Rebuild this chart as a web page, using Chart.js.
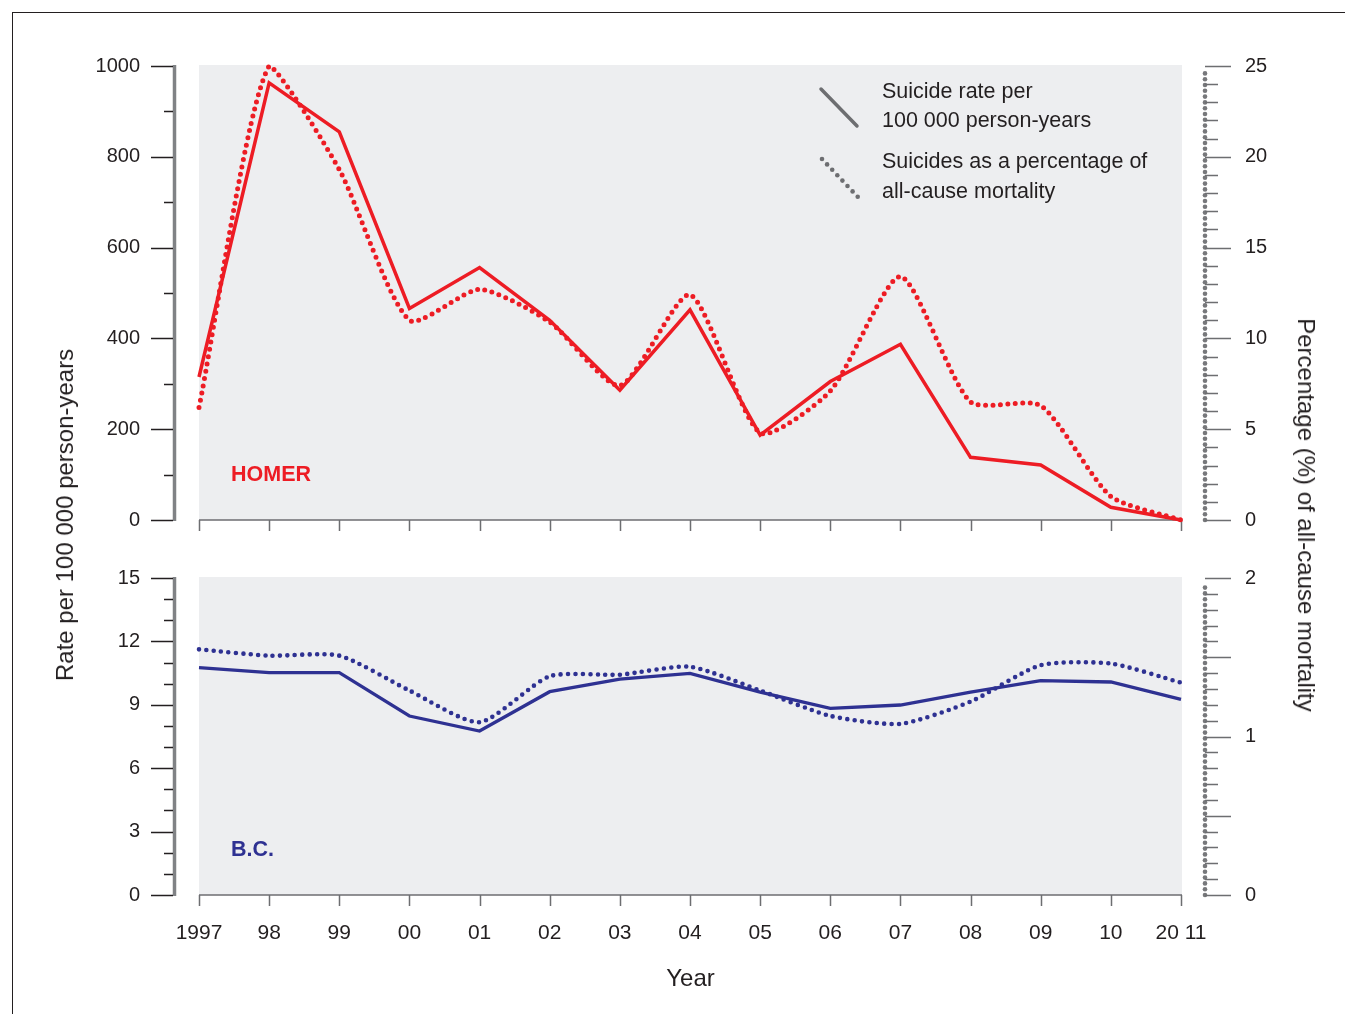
<!DOCTYPE html>
<html>
<head>
<meta charset="utf-8">
<script src="https://cdn.jsdelivr.net/npm/chart.js@4.4.1/dist/chart.umd.min.js"></script>
<style>
  html, body { margin: 0; padding: 0; background: #fff; }
  body { width: 1345px; height: 1014px; position: relative; overflow: hidden;
         font-family: "Liberation Sans", Arial, Helvetica, sans-serif; color: #231f20; }
  #frame { position: absolute; left: 12px; top: 12px; width: 1400px; height: 1100px;
           border-top: 1.5px solid #231f20; border-left: 1.5px solid #231f20; }
  .panel { position: absolute; left: 0; width: 1345px; }
  #topWrap { top: 0; height: 545px; }
  #botWrap { top: 545px; height: 469px; }
  .ytitle { position: absolute; font-size: 24px; white-space: nowrap; }
  #titleL { left: 65px; top: 515px; transform: translate(-50%, -50%) rotate(-90deg); }
  #titleR { left: 1306px; top: 515px; transform: translate(-50%, -50%) rotate(90deg); }
</style>
</head>
<body>
<div id="frame"></div>
<div class="panel" id="topWrap"><canvas id="topChart"></canvas></div>
<div class="panel" id="botWrap"><canvas id="botChart"></canvas></div>
<div class="ytitle" id="titleL">Rate per 100 000 person-years</div>
<div class="ytitle" id="titleR">Percentage (%) of all-cause mortality</div>

<script>
// data
const years = [1997, 1998, 1999, 2000, 2001, 2002, 2003, 2004, 2005, 2006, 2007, 2008, 2009, 2010, 2011];
const yearLabels = ["1997", "98", "99", "00", "01", "02", "03", "04", "05", "06", "07", "08", "09", "10", "20 11"];

// HOMER: rate per 100 000 person-years (left) and % of all-cause mortality (right)
const homerRate = [315, 963, 855, 466, 556, 440, 286, 463, 187, 305, 387, 138, 121, 28, 0];
const homerPct = [6.2, 25.0, 19.3, 11.0, 12.7, 10.9, 7.4, 12.4, 4.8, 7.1, 13.4, 6.5, 6.3, 1.3, 0];

// B.C.
const bcRate = [10.76, 10.52, 10.52, 8.47, 7.76, 9.62, 10.21, 10.49, 9.6, 8.83, 8.99, 9.6, 10.14, 10.08, 9.26];
const bcPct = [1.55, 1.51, 1.51, 1.29, 1.09, 1.38, 1.39, 1.44, 1.29, 1.13, 1.08, 1.22, 1.45, 1.46, 1.34];

const RED = "#ed1c24";
const BLUE = "#2e3192";
const INK = "#231f20";
const GREY = "#6d6e71";

Chart.defaults.font.family = '"Liberation Sans", Arial, Helvetica, sans-serif';
Chart.defaults.color = INK;

const pts = (arr) => arr.map((v, i) => ({ x: years[i], y: v }));

// background, axes with minor ticks, panel label and legend
const panelDeco = {
  id: "panelDeco",
  beforeDatasetsDraw(chart, args, o) {
    const { ctx, scales: { x, yL } } = chart;
    const x0 = x.getPixelForValue(years[0]);
    const x1 = x.getPixelForValue(years[years.length - 1]);
    const yTop = yL.getPixelForValue(yL.max);
    const yBot = yL.getPixelForValue(0);
    ctx.save();
    ctx.fillStyle = "#edeef0";
    ctx.fillRect(x0, yTop - 1, x1 - x0 + 1, yBot - yTop + 1);
    ctx.strokeStyle = GREY;
    ctx.lineWidth = 1.5;
    ctx.beginPath();
    ctx.moveTo(x0, yBot);
    ctx.lineTo(x1 + 1, yBot);
    years.forEach(v => {
      const px = Math.round(x.getPixelForValue(v)) + 0.5;
      ctx.moveTo(px, yBot);
      ctx.lineTo(px, yBot + 11);
    });
    ctx.stroke();

    // panel name
    ctx.fillStyle = o.labelColor;
    ctx.font = 'bold 21.5px "Liberation Sans", Arial, sans-serif';
    ctx.textBaseline = "middle";
    ctx.fillText(o.label, x0 + 32, yBot - 45);
    ctx.restore();
  },
  afterDraw(chart, args, o) {
    const { ctx, chartArea, scales: { yL, yR } } = chart;
    ctx.save();

    // left axis
    const ax = chartArea.left;
    ctx.strokeStyle = "#808285";
    ctx.lineWidth = 3.5;
    ctx.beginPath();
    ctx.moveTo(ax - 1.5, yL.getPixelForValue(yL.max) - 1);
    ctx.lineTo(ax - 1.5, yL.getPixelForValue(0) + 1);
    ctx.stroke();
    ctx.strokeStyle = INK;
    ctx.lineWidth = 1.3;
    ctx.beginPath();
    const nL = Math.round(yL.max / o.leftMinor);
    for (let i = 0; i <= nL; i++) {
      const v = i * o.leftMinor;
      const major = Math.abs(v / o.leftMajor - Math.round(v / o.leftMajor)) < 1e-6;
      const py = Math.round(yL.getPixelForValue(v)) + 0.5;
      ctx.moveTo(ax - 3, py);
      ctx.lineTo(ax - (major ? 25 : 12), py);
    }
    ctx.stroke();

    // right axis: dotted line + ticks
    const rx = chartArea.right;
    const rTop = yR.getPixelForValue(yR.max) + 5;
    const rBot = yR.getPixelForValue(0);
    ctx.fillStyle = "#77787b";
    for (let py = rBot; py >= rTop; py -= 5.8) {
      ctx.beginPath();
      ctx.arc(rx, py, 2.3, 0, Math.PI * 2);
      ctx.fill();
    }
    ctx.strokeStyle = GREY;
    ctx.lineWidth = 1.3;
    ctx.beginPath();
    const nR = Math.round(yR.max / o.rightMinor);
    for (let i = 0; i <= nR; i++) {
      const v = i * o.rightMinor;
      const major = Math.abs(v / o.rightMajor - Math.round(v / o.rightMajor)) < 1e-6;
      const py = Math.round(yR.getPixelForValue(v)) + 0.5;
      ctx.moveTo(rx, py);
      ctx.lineTo(rx + (major ? 26 : 13), py);
    }
    ctx.stroke();

    // legend (top panel only)
    if (o.legend) {
      ctx.strokeStyle = GREY;
      ctx.lineWidth = 3.5;
      ctx.lineCap = "round";
      ctx.beginPath();
      ctx.moveTo(821, 89);
      ctx.lineTo(857, 126);
      ctx.stroke();
      ctx.fillStyle = GREY;
      for (let k = 0; k <= 7; k++) {
        ctx.beginPath();
        ctx.arc(822 + k * 5.1, 159 + k * 5.4, 2.3, 0, Math.PI * 2);
        ctx.fill();
      }
      ctx.fillStyle = INK;
      ctx.font = '21.5px "Liberation Sans", Arial, sans-serif';
      ctx.textBaseline = "middle";
      ctx.fillText("Suicide rate per", 882, 92);
      ctx.fillText("100 000 person-years", 882, 121);
      ctx.fillText("Suicides as a percentage of", 882, 162);
      ctx.fillText("all-cause mortality", 882, 192);
    }
    ctx.restore();
  }
};

function makePanel(id, opts) {
  const xPerYear = 982 / 14;
  // y ticks: use (hidden) tick length instead of label padding so layout padding stays small
  const yScale = (pos, max, step, gap) => ({
    position: pos,
    min: 0,
    max: max,
    grid: { display: false, drawTicks: true, tickLength: gap },
    border: { display: false },
    afterFit: s => { s.width = 100; },
    ticks: { stepSize: step, padding: 0, font: { size: 20 }, callback: v => String(v) }
  });
  return new Chart(document.getElementById(id), {
    type: "line",
    data: {
      datasets: [
        {
          label: "Suicide rate per 100 000 person-years",
          data: pts(opts.rate),
          yAxisID: "yL",
          borderColor: opts.color,
          borderWidth: opts.solidWidth,
          pointRadius: 0,
          tension: 0,
          clip: false
        },
        {
          label: "Suicides as a percentage of all-cause mortality",
          data: pts(opts.pct),
          yAxisID: "yR",
          borderColor: opts.color,
          borderWidth: opts.dotSize,
          borderDash: [0, 7.4],
          borderCapStyle: "round",
          tension: 0.22,
          pointRadius: 0,
          clip: false
        }
      ]
    },
    options: {
      responsive: true,
      maintainAspectRatio: false,
      animation: false,
      events: [],
      layout: { padding: { top: opts.padTop, bottom: 0, left: 76, right: 40 } },
      plugins: {
        legend: { display: false },
        tooltip: { enabled: false },
        panelDeco: {
          label: opts.label, labelColor: opts.color, legend: opts.legend,
          leftMinor: opts.leftMinor, leftMajor: opts.leftMajor,
          rightMinor: opts.rightMinor, rightMajor: opts.rightMajor
        }
      },
      scales: {
        x: {
          type: "linear",
          min: 1997 - 23 / xPerYear,
          max: 2011 + 24 / xPerYear,
          grid: { display: false, drawTicks: false },
          border: { display: false },
          afterBuildTicks: s => { s.ticks = years.map(v => ({ value: v })); },
          afterFit: s => { s.height = opts.xHeight; },
          ticks: {
            display: opts.showX,
            autoSkip: false,
            maxRotation: 0,
            padding: 26,
            font: { size: 21 },
            callback: (v, i) => yearLabels[i]
          },
          title: {
            display: opts.showX,
            text: "Year",
            font: { size: 24 },
            padding: { top: 0, bottom: 20 }
          }
        },
        yL: yScale("left", opts.leftMax, opts.leftMajor, 36),
        yR: yScale("right", opts.rightMax, opts.rightLabelStep, 40)
      }
    },
    plugins: [panelDeco]
  });
}

makePanel("topChart", {
  rate: homerRate, pct: homerPct, color: RED, label: "HOMER", legend: true,
  solidWidth: 3.5, dotSize: 5, padTop: 66, xHeight: 25, showX: false,
  leftMax: 1000, leftMajor: 200, leftMinor: 100,
  rightMax: 25, rightMajor: 5, rightMinor: 1, rightLabelStep: 5
});

makePanel("botChart", {
  rate: bcRate, pct: bcPct, color: BLUE, label: "B.C.", legend: false,
  solidWidth: 3.3, dotSize: 4.6, padTop: 33, xHeight: 119, showX: true,
  leftMax: 15, leftMajor: 3, leftMinor: 1,
  rightMax: 2, rightMajor: 0.5, rightMinor: 0.1, rightLabelStep: 1
});
</script>
</body>
</html>
